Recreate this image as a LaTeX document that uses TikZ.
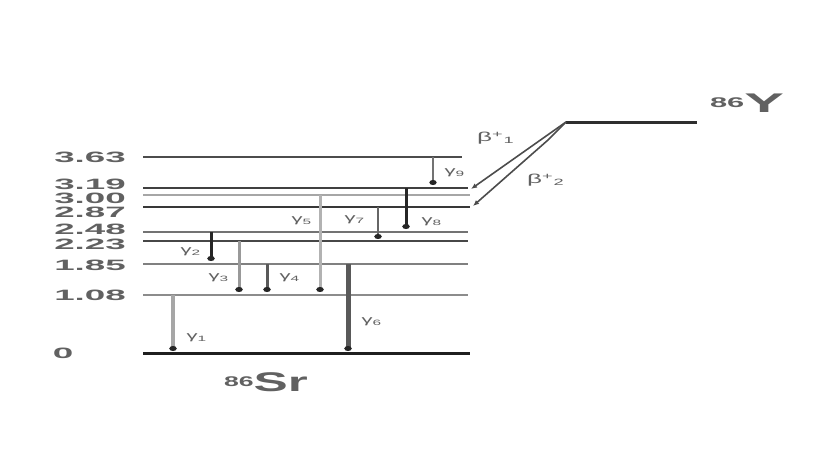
\documentclass[tikz,border=0pt]{standalone}
\usepackage{fontspec}
\setmainfont{Liberation Sans}
\usetikzlibrary{arrows.meta}
\definecolor{txt}{gray}{0.38}
\begin{document}
\begin{tikzpicture}[x=1pt,y=-1pt,
  lbl/.style={anchor=east,text=txt,inner sep=0pt,font=\bfseries\fontsize{15}{15}\selectfont},
  glab/.style={text=txt,inner sep=0pt,font=\fontsize{11}{11}\selectfont},
  blab/.style={text=txt,inner sep=0pt,font=\fontsize{13}{13}\selectfont},
  gam/.style={-{Circle[length=5pt,width=7pt,color=black!85]}},
  betaarrow/.style={line width=1.6pt,black!70,-{Latex[length=6pt,width=5pt]}}]
\useasboundingbox (0,0) rectangle (819,460);
% levels
\foreach \n/\y/\r/\w/\c in {363/157/462/1.8/70,319/188/468/2.4/75,300/195/470/1.4/35,287/207/470/2.4/78,248/232/468/1.5/55,223/241/468/2/72,185/264/468/1.1/50,108/295/468/1.1/45,0/353/470/3/88}{
  \coordinate (L\n l) at (143,\y);
  \coordinate (L\n r) at (\r,\y);
  \draw[line width=\w pt,black!\c] (L\n l) -- (L\n r);
}
% level labels
\node[lbl] (t363) at (126,157) {\scalebox{2.45}[1]{3.63}};
\node[lbl] (t319) at (126,184) {\scalebox{2.45}[1]{3.19}};
\node[lbl] (t300) at (126,198) {\scalebox{2.45}[1]{3.00}};
\node[lbl] (t287) at (126,212) {\scalebox{2.45}[1]{2.87}};
\node[lbl] (t248) at (126,229) {\scalebox{2.45}[1]{2.48}};
\node[lbl] (t223) at (126,244) {\scalebox{2.45}[1]{2.23}};
\node[lbl] (t185) at (126,265) {\scalebox{2.45}[1]{1.85}};
\node[lbl] (t108) at (126,295) {\scalebox{2.45}[1]{1.08}};
\node[text=txt,inner sep=0pt,font=\bfseries\fontsize{15}{15}\selectfont] (t0) at (63,353) {\scalebox{2.45}[1]{0}};
% gamma transitions
\foreach \n/\x/\t/\b/\w/\c in {1/173/295/351/4/35,2/211/232/261/3/85,3/239/241/292/3/40,4/267/264/292/3/65,5/320/195/292/3/30,6/348/264/351/5/65,7/378/207/239/2.5/60,8/406/188/229/3/85,9/433/157/185/2/55}{
  \coordinate (g\n a) at (\x,\t);
  \coordinate (g\n b) at (\x,\b);
  \draw[gam,line width=\w pt,black!\c] (g\n a) -- (g\n b);
}
% gamma labels
\node[glab] (l1) at (197,338) {\scalebox{2}[1]{γ\textsubscript{1}}};
\node[glab] (l2) at (191,252) {\scalebox{2}[1]{γ\textsubscript{2}}};
\node[glab] (l3) at (219,278) {\scalebox{2}[1]{γ\textsubscript{3}}};
\node[glab] (l4) at (290,278) {\scalebox{2}[1]{γ\textsubscript{4}}};
\node[glab] (l5) at (302,221) {\scalebox{2}[1]{γ\textsubscript{5}}};
\node[glab] (l6) at (372,322) {\scalebox{2}[1]{γ\textsubscript{6}}};
\node[glab] (l7) at (355,220) {\scalebox{2}[1]{γ\textsubscript{7}}};
\node[glab] (l8) at (432,222) {\scalebox{2}[1]{γ\textsubscript{8}}};
\node[glab] (l9) at (455,173) {\scalebox{2}[1]{γ\textsubscript{9}}};
% parent level and beta branches
\coordinate (Ytop) at (566,122);
\coordinate (Yend) at (697,122);
\coordinate (Bj) at (548,140);
\coordinate (B1) at (471,189);
\coordinate (B2) at (473,206);
\draw[line width=3pt,black!82] (Ytop) -- (Yend);
\draw[betaarrow] (Ytop) -- (B1);
\draw[betaarrow] (Ytop) -- (Bj) -- (B2);
\node[blab] (b1) at (496,138) {\scalebox{2}[1]{β\textsuperscript{+}\textsubscript{1}}};
\node[blab] (b2) at (546,180) {\scalebox{2}[1]{β\textsuperscript{+}\textsubscript{2}}};
% nuclide labels
\node[text=txt,inner sep=0pt,font=\bfseries] (Y) at (747,103) {\scalebox{2.2}[1]{{\fontsize{14}{14}\selectfont\raisebox{5pt}{86}}{\fontsize{27}{27}\selectfont Y}}};
\node[text=txt,inner sep=0pt,font=\bfseries] (Sr) at (266,382) {\scalebox{1.9}[1]{{\fontsize{14}{14}\selectfont\raisebox{5pt}{86}}{\fontsize{27}{27}\selectfont Sr}}};
\end{tikzpicture}
\end{document}
